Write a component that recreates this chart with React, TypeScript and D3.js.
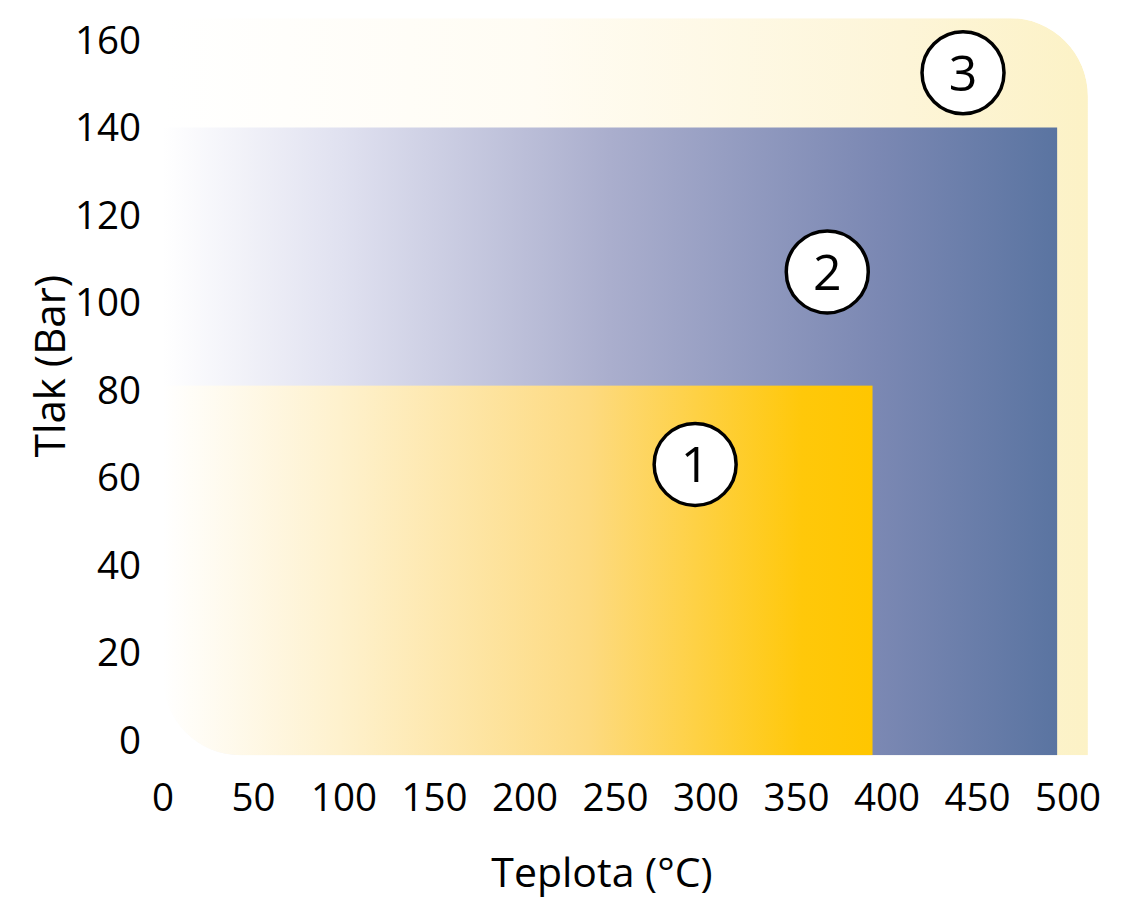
import React from "react";
import * as d3 from "d3";

const W = 1135;
const H = 900;

// axis ticks
const xTicks = [0, 50, 100, 150, 200, 250, 300, 350, 400, 450, 500];
const yTicks = [0, 20, 40, 60, 80, 100, 120, 140, 160];

// regions: temperature (°C) and pressure (Bar) bounds
const regionIds = ["1", "2", "3"];
const regionTMin = [0, 0, 0];
const regionTMax = [392, 494, 511];
const regionPMin = [-3.5, -3.5, -3.5];
const regionPMax = [81, 140, 165];
// label positions (data coords)
const labelT = [294, 367, 442];
const labelP = [63, 107, 152.5];

const xTitle = "Teplota (°C)";
const yTitle = "Tlak (Bar)";

export default function App() {
  const x = d3.scaleLinear().domain([0, 500]).range([163, 1068]);
  const y = d3.scaleLinear().domain([0, 160]).range([740, 40]);

  const outerLeft = x(regionTMin[2]);
  const outerRight = x(regionTMax[2]);
  const outerTop = y(regionPMax[2]);
  const outerBottom = y(regionPMin[2]);
  const r = 78;
  const outerPath = [
    `M${outerLeft},${outerTop}`,
    `L${outerRight - r},${outerTop}`,
    `A${r},${r} 0 0 1 ${outerRight},${outerTop + r}`,
    `L${outerRight},${outerBottom}`,
    `L${outerLeft + r},${outerBottom}`,
    `A${r},${r} 0 0 1 ${outerLeft},${outerBottom - r}`,
    "Z",
  ].join(" ");

  const font = "'Open Sans', sans-serif";

  return (
    <svg width={W} height={H} style={{ display: "block", position: "absolute", left: 0, top: 0 }}>
      <defs>
        <clipPath id="outerClip">
          <path d={outerPath} />
        </clipPath>
        <linearGradient id="g3" gradientUnits="userSpaceOnUse" x1={x(0)} x2={x(regionTMax[2])} y1={0} y2={0}>
          <stop offset="0" stopColor="#ffffff" />
          <stop offset="0.4" stopColor="#fffcf3" />
          <stop offset="0.8" stopColor="#fdf5d8" />
          <stop offset="1" stopColor="#fcf2c6" />
        </linearGradient>
        <linearGradient id="g2" gradientUnits="userSpaceOnUse" x1={x(0)} x2={x(regionTMax[1])} y1={0} y2={0}>
          <stop offset="0" stopColor="#ffffff" />
          <stop offset="0.2" stopColor="#e0e1f0" />
          <stop offset="0.5" stopColor="#aaaecd" />
          <stop offset="0.8" stopColor="#7b88b3" />
          <stop offset="1" stopColor="#5a74a1" />
        </linearGradient>
        <linearGradient id="g1" gradientUnits="userSpaceOnUse" x1={x(0)} x2={x(regionTMax[0])} y1={0} y2={0}>
          <stop offset="0" stopColor="#ffffff" />
          <stop offset="0.25" stopColor="#fef1cd" />
          <stop offset="0.6" stopColor="#fdda80" />
          <stop offset="0.9" stopColor="#ffc80a" />
          <stop offset="1" stopColor="#ffc600" />
        </linearGradient>
      </defs>

      <g clipPath="url(#outerClip)">
        <path d={outerPath} fill="url(#g3)" />
        {[1, 0].map((i) => (
          <rect
            key={i}
            x={x(regionTMin[i])}
            y={y(regionPMax[i])}
            width={x(regionTMax[i]) - x(regionTMin[i])}
            height={y(regionPMin[i]) - y(regionPMax[i])}
            fill={`url(#g${i + 1})`}
          />
        ))}
      </g>

      {regionIds.map((id, i) => (
        <g key={id} transform={`translate(${x(labelT[i])},${y(labelP[i])})`}>
          <circle r={41} fill="#ffffff" stroke="#000000" strokeWidth={3.5} />
          <text
            textAnchor="middle"
            dy="0.36em"
            fontFamily={font}
            fontSize={50}
            fill="#000"
          >
            {id}
          </text>
        </g>
      ))}

      {yTicks.map((t) => (
        <text
          key={"y" + t}
          x={141}
          y={y(t)}
          dy="0.36em"
          textAnchor="end"
          fontFamily={font}
          fontSize={38.5}
          fill="#000"
        >
          {t}
        </text>
      ))}

      {xTicks.map((t) => (
        <text
          key={"x" + t}
          x={x(t)}
          y={797}
          dy="0.36em"
          textAnchor="middle"
          fontFamily={font}
          fontSize={38.5}
          fill="#000"
        >
          {t}
        </text>
      ))}

      <text
        x={602}
        y={872}
        dy="0.36em"
        textAnchor="middle"
        fontFamily={font}
        fontSize={41}
        fill="#000"
      >
        {xTitle}
      </text>
      <text
        transform={`translate(50,366) rotate(-90)`}
        dy="0.36em"
        textAnchor="middle"
        fontFamily={font}
        fontSize={42}
        fill="#000"
      >
        {yTitle}
      </text>
    </svg>
  );
}
